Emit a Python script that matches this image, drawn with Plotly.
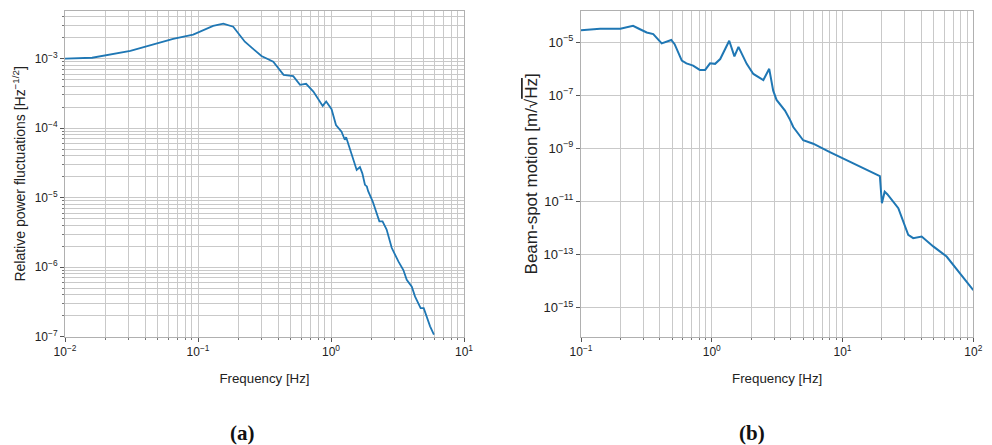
import plotly.graph_objects as go

# ---- data: panel (a) relative power fluctuations ----
freq_a = [0.01, 0.016, 0.031, 0.065, 0.092, 0.13, 0.155, 0.184, 0.225, 0.30, 0.368,
          0.44, 0.52, 0.585, 0.65, 0.737, 0.866, 0.92, 1.01, 1.09, 1.2, 1.27, 1.30,
          1.39, 1.46, 1.56, 1.65, 1.72, 1.80, 1.86, 1.9, 1.99, 2.06, 2.31, 2.44, 2.62,
          2.86, 3.21, 3.5, 3.71, 4.05, 4.28, 4.72, 4.98, 5.3, 5.56, 5.94]
rpn_a = [1.0e-3, 1.03e-3, 1.29e-3, 1.92e-3, 2.21e-3, 2.95e-3, 3.18e-3, 2.88e-3,
         1.75e-3, 1.09e-3, 9.06e-4, 5.83e-4, 5.6e-4, 4.19e-4, 4.34e-4, 3.36e-4,
         2.09e-4, 2.42e-4, 1.87e-4, 1.11e-4, 8.9e-5, 6.8e-5, 7.4e-5, 5.1e-5, 3.6e-5,
         2.5e-5, 2.75e-5, 2.24e-5, 1.53e-5, 1.45e-5, 1.25e-5, 1.05e-5, 8.8e-6, 4.57e-6,
         4.57e-6, 3.47e-6, 1.9e-6, 1.21e-6, 9.1e-7, 6.6e-7, 5.25e-7, 3.8e-7, 2.57e-7,
         2.57e-7, 1.78e-7, 1.41e-7, 1.07e-7]

# ---- data: panel (b) beam-spot motion ----
freq_b = [0.1, 0.14, 0.2, 0.25, 0.28, 0.318, 0.357, 0.414, 0.49, 0.52, 0.59, 0.64,
          0.72, 0.81, 0.89, 0.97, 1.06, 1.16, 1.36, 1.49, 1.6, 1.85, 2.08, 2.48, 2.75,
          2.95, 3.13, 3.63, 3.96, 4.2, 5.0, 5.97, 8.0, 10.7, 14.4, 19.3, 20.0, 21.0,
          22.0, 26.7, 31.8, 34.7, 40.3, 49.4, 62.5, 79.0, 100.0]
bsm_b = [2.8e-5, 3.15e-5, 3.15e-5, 4.1e-5, 3.1e-5, 2.3e-5, 2.0e-5, 8.9e-6, 1.2e-5,
         8.3e-6, 2.0e-6, 1.58e-6, 1.29e-6, 8.9e-7, 8.9e-7, 1.58e-6, 1.51e-6, 2.29e-6,
         1.12e-5, 2.9e-6, 6.6e-6, 1.51e-6, 6.3e-7, 3.7e-7, 9.8e-7, 1.48e-7, 6.6e-8,
         2.63e-8, 1.2e-8, 6.3e-9, 2.0e-9, 1.48e-9, 7.2e-10, 3.55e-10, 1.74e-10,
         8.9e-11, 8.5e-12, 2.3e-11, 1.86e-11, 5.5e-12, 5.5e-13, 4.1e-13, 4.7e-13,
         2.0e-13, 8.3e-14, 2.0e-14, 4.5e-15]

# ---- tick definitions ----
xa_exp = [-2, -1, 0, 1]
ya_exp = [-7, -6, -5, -4, -3]
xb_exp = [-1, 0, 1, 2]
yb_exp = [-15, -13, -11, -9, -7, -5]


def sup(e):
    return "10<sup>" + str(e).replace("-", "\u2212") + "</sup>"


def minors(lo, hi):
    out = []
    for e in range(lo, hi):
        for m in range(2, 10):
            out.append(m * 10 ** e)
    return out


# page body has an 8 px margin; size the figure to fill the rest of the window
OFF = 8
W, H = 992 - OFF, 445 - OFF


def px(x):
    return (x - OFF) / W


def py(y):
    return 1 - (y - OFF) / H


blue = "#1f77b4"
grid = "#c9c9c9"
font = "Liberation Sans"

fig = go.Figure()
fig.add_trace(go.Scatter(x=freq_a, y=rpn_a, mode="lines", line=dict(color=blue, width=1.8),
                         xaxis="x", yaxis="y", showlegend=False))
fig.add_trace(go.Scatter(x=freq_b, y=bsm_b, mode="lines", line=dict(color=blue, width=2),
                         xaxis="x2", yaxis="y2", showlegend=False))

ydom = [py(336.7), py(11)]
common = dict(type="log", showline=True, linecolor="#b0b0b0", linewidth=1, mirror=True,
              gridcolor=grid, gridwidth=1, ticks="outside", ticklen=4, tickcolor="#555",
              zeroline=False, automargin=False)
tf12 = dict(family=font, size=12, color="#222")
tf13 = dict(family=font, size=13, color="#222")
minor_style = dict(showgrid=True, gridcolor=grid, ticks="outside", ticklen=2, tickcolor="#777")

fig.update_layout(
    width=W, height=H, margin=dict(l=0, r=0, t=0, b=0),
    paper_bgcolor="white", plot_bgcolor="white",
    font=dict(family=font, color="#222"),
    xaxis=dict(domain=[px(65), px(464)], range=[-2, 1], anchor="y", tickfont=tf12,
               tickvals=[10 ** e for e in xa_exp], ticktext=[sup(e) for e in xa_exp],
               minor=dict(tickvals=minors(-2, 1), **minor_style),
               title=dict(text="Frequency [Hz]", font=dict(family=font, size=13.3), standoff=15),
               **common),
    yaxis=dict(domain=ydom, range=[-7, -2.315], anchor="x", tickfont=tf12,
               tickvals=[10 ** e for e in ya_exp], ticktext=[sup(e) for e in ya_exp],
               minor=dict(tickvals=minors(-7, -2), **minor_style),
               title=dict(text="Relative power fluctuations [Hz<sup>\u22121/2</sup>]",
                          font=dict(family=font, size=14), standoff=5),
               **common),
    xaxis2=dict(domain=[px(581), px(973.3)], range=[-1, 2], anchor="y2", tickfont=tf12,
                tickvals=[10 ** e for e in xb_exp], ticktext=[sup(e) for e in xb_exp],
                minor=dict(tickvals=minors(-1, 2), **minor_style),
                title=dict(text="Frequency [Hz]", font=dict(family=font, size=13.3), standoff=15),
                **common),
    yaxis2=dict(domain=ydom, range=[-16.1, -3.83], anchor="x2", tickfont=tf13,
                tickvals=[10 ** e for e in yb_exp], ticktext=[sup(e) for e in yb_exp],
                title=dict(text="Beam-spot motion [m/\u221a<span style='text-decoration:overline'>Hz</span>]",
                           font=dict(family=font, size=17), standoff=1),
                **common),
    annotations=[
        dict(text="<b>(a)</b>", x=px(242), y=py(433), xref="paper", yref="paper",
             xanchor="center", yanchor="middle", showarrow=False,
             font=dict(family="Liberation Serif", size=21, color="#111")),
        dict(text="<b>(b)</b>", x=px(752), y=py(433), xref="paper", yref="paper",
             xanchor="center", yanchor="middle", showarrow=False,
             font=dict(family="Liberation Serif", size=21, color="#111")),
    ],
)

fig.write_html("out.html")
